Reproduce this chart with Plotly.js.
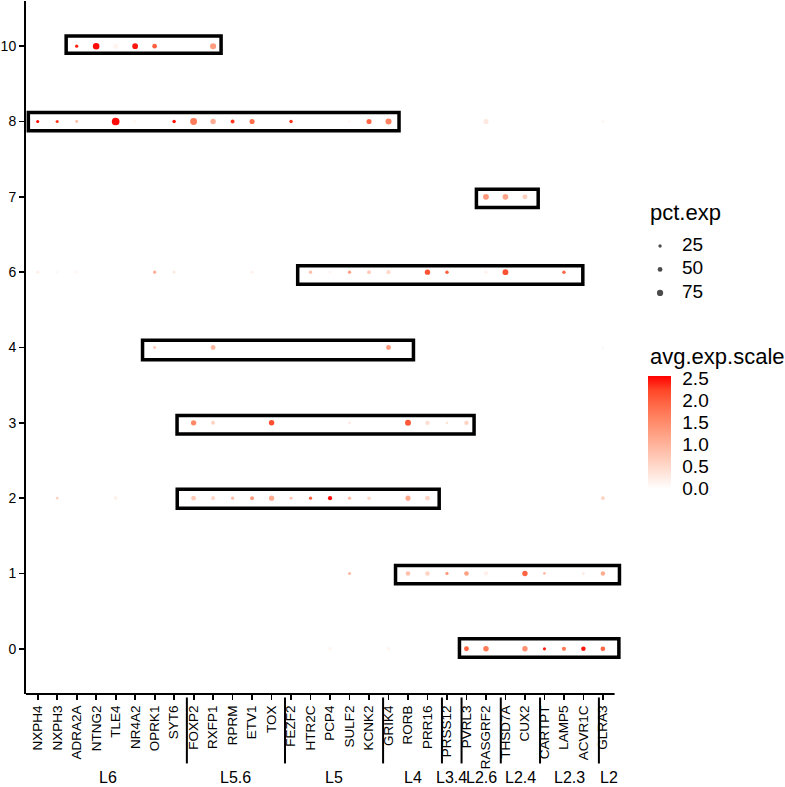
<!DOCTYPE html>
<html>
<head>
<meta charset="utf-8">
<script src="https://cdn.plot.ly/plotly-3.0.1.min.js"></script>
<style>html,body{margin:0;padding:0;background:#fff;}#chart{width:785px;height:787px;}</style>
</head>
<body>
<div id="chart"></div>
<script>
// ---------- data ----------
const genes = ['NXPH4','NXPH3','ADRA2A','NTNG2','TLE4','NR4A2','OPRK1','SYT6','FOXP2','RXFP1','RPRM','ETV1','TOX','FEZF2','HTR2C','PCP4','SULF2','KCNK2','GRIK4','RORB','PRR16','PRSS12','PVRL3','RASGRF2','THSD7A','CUX2','CARTPT','LAMP5','ACVR1C','GLRA3'];
const clusters = ['0','1','2','3','4','6','7','8','10'];
const layerGroups = ['L6','L5.6','L5','L4','L3.4','L2.6','L2.4','L2.3','L2'];
const layerSizes = [8,5,5,3,1,2,2,3,1];

const dotCluster = [
 '10','10','10','10','10','10',
 '8','8','8','8','8','8','8','8','8','8','8','8','8','8','8','8',
 '7','7','7',
 '6','6','6','6','6','6','6','6','6','6','6','6','6','6','6','6',
 '4','4','4','4',
 '3','3','3','3','3','3','3','3',
 '2','2','2','2','2','2','2','2','2','2','2','2','2','2','2',
 '1','1','1','1','1','1','1','1','1','1',
 '0','0','0','0','0','0','0','0','0'
];
const dotGene = [
 'ADRA2A','NTNG2','TLE4','NR4A2','OPRK1','RXFP1',
 'NXPH4','NXPH3','ADRA2A','TLE4','NR4A2','SYT6','FOXP2','RXFP1','RPRM','ETV1','FEZF2','SULF2','KCNK2','GRIK4','RASGRF2','GLRA3',
 'RASGRF2','THSD7A','CUX2',
 'NXPH4','NXPH3','ADRA2A','OPRK1','SYT6','ETV1','HTR2C','PCP4','SULF2','KCNK2','GRIK4','PRR16','PRSS12','RASGRF2','THSD7A','LAMP5',
 'OPRK1','RXFP1','GRIK4','GLRA3',
 'FOXP2','RXFP1','TOX','SULF2','RORB','PRR16','PRSS12','PVRL3',
 'NXPH3','TLE4','FOXP2','RXFP1','RPRM','ETV1','TOX','FEZF2','HTR2C','PCP4','SULF2','KCNK2','RORB','PRR16','GLRA3',
 'SULF2','RORB','PRR16','PRSS12','PVRL3','RASGRF2','CUX2','CARTPT','ACVR1C','GLRA3',
 'PCP4','GRIK4','PVRL3','RASGRF2','CUX2','CARTPT','LAMP5','ACVR1C','GLRA3'
];
const dotPct = [
 24,80,55,65,48,72,
 22,22,18,100,15,28,85,60,35,55,28,15,55,72,55,15,
 68,65,52,
 15,12,14,22,15,15,22,14,24,33,40,60,28,15,68,28,
 18,50,50,8,
 60,35,62,12,70,42,12,42,
 14,30,50,38,22,35,58,18,22,40,24,28,55,48,30,
 22,45,45,24,48,40,60,15,18,45,
 25,25,52,62,60,22,40,45,48
];
const dotExp = [
 2.4,2.5,0.15,2.45,2.0,1.3,
 2.5,2.3,0.9,2.5,0.15,2.45,1.7,1.1,2.3,1.85,2.3,0.12,1.9,1.6,0.3,0.15,
 1.35,1.2,0.65,
 0.25,0.1,0.15,1.1,0.3,0.2,0.9,0.15,1.3,0.7,0.5,2.1,2.0,0.2,2.1,1.9,
 0.7,0.95,1.35,0.1,
 1.55,0.6,2.15,0.3,2.05,0.45,0.4,0.6,
 0.6,0.2,0.7,0.5,0.9,1.35,1.1,0.8,2.0,2.5,0.9,0.5,1.15,0.55,0.6,
 0.9,0.85,0.6,1.3,1.25,0.2,1.95,0.9,0.25,1.1,
 0.15,0.15,1.95,1.7,1.45,2.4,1.7,2.45,1.9
];

const legendPct = [25,50,75];
const colorTicks = [0,0.5,1.0,1.5,2.0,2.5];

// highlight boxes (gene-index / cluster-index units)
const boxX0 = [2.46, 0.52, 23.51, 14.34, 6.38, 8.15, 8.16, 19.36, 22.64];
const boxX1 = [10.41, 19.54, 26.68, 28.97, 20.28, 23.39, 21.6, 30.85, 30.82];
const boxY0 = [7.905, 6.877, 5.857, 4.841, 3.837, 2.851, 1.865, 0.863, -0.111];
const boxY1 = [8.134, 7.119, 6.101, 5.086, 4.095, 3.098, 2.117, 1.107, 0.133];

// ---------- styling helpers ----------
const FONT = 'Liberation Sans, Arial, Helvetica, sans-serif';
const sizeOf = p => 1.9 + 0.058 * p;
const colorscale = [
 [0,'rgb(255,255,255)'],[0.125,'rgb(255,231,222)'],[0.25,'rgb(255,207,190)'],
 [0.375,'rgb(255,183,160)'],[0.5,'rgb(255,158,129)'],[0.625,'rgb(255,132,99)'],
 [0.75,'rgb(255,104,70)'],[0.875,'rgb(255,70,40)'],[1,'rgb(255,0,0)']
];

const W = 785, H = 787;
const mL = 25.6, mR = 0, mT = 0.8, mB = 92.5;
const plotW = 596.7;                 // x-axis length in px
const paperW = W - mL - mR, paperH = H - mT - mB;
const px2x = p => (p - mL) / paperW;
const px2y = p => (H - mB - p) / paperH;

const xIdx = dotGene.map(g => genes.indexOf(g) + 1);
const yIdx = dotCluster.map(c => clusters.indexOf(c));

const traces = [
 {
  type:'scatter', mode:'markers', x:xIdx, y:yIdx, showlegend:false, hoverinfo:'skip',
  cliponaxis:false,
  marker:{
   size: dotPct.map(sizeOf), color: dotExp, colorscale: colorscale, cmin:0, cmax:2.55,
   line:{width:0}, opacity:1, showscale:true,
   colorbar:{
    x:px2x(648), xanchor:'left', y:px2y(432.5), yanchor:'middle',
    len:113, lenmode:'pixels', thickness:23, thicknessmode:'pixels',
    outlinewidth:0, xpad:0, ypad:0,
    tickvals:colorTicks, ticktext:colorTicks.map(v => v.toFixed(1)),
    ticks:'outside', ticklen:8, tickcolor:'rgba(255,255,255,0)', tickwidth:1,
    tickfont:{family:FONT, size:19, color:'#000'}
   }
  }
 },
 { type:'scatter', mode:'markers', x:[1], y:[null], xaxis:'x2', yaxis:'y', showlegend:false, hoverinfo:'skip' },
 {
  type:'scatter', mode:'markers', x:legendPct.map(() => 0.2), y:legendPct, xaxis:'x3', yaxis:'y3',
  showlegend:false, hoverinfo:'skip', cliponaxis:false,
  marker:{size:legendPct.map(sizeOf), color:'#000', line:{width:0}}
 },
 {
  type:'scatter', mode:'text', x:legendPct.map(() => 0.64), y:legendPct, xaxis:'x3', yaxis:'y3',
  text:legendPct.map(String), textposition:'middle right', showlegend:false, hoverinfo:'skip', cliponaxis:false,
  textfont:{family:FONT, size:19, color:'#000'}
 }
];

const shapes = [];
for (let i = 0; i < boxX0.length; i++) {
 shapes.push({type:'rect', xref:'x', yref:'y', x0:boxX0[i], x1:boxX1[i], y0:boxY0[i], y1:boxY1[i],
  line:{color:'#000', width:3.5}, fillcolor:'rgba(0,0,0,0)', layer:'above'});
}
shapes.push({type:'line', xref:'x', yref:'paper', x0:0.4, x1:genes.length + 0.6, y0:0, y1:0, line:{color:'#000', width:2}});

const annotations = [];
let cum = 0;
layerSizes.forEach((n, i) => {
 const center = cum + (n + 1) / 2;
 annotations.push({xref:'x2', yref:'paper', x:center, y:px2y(778.5), text:layerGroups[i], showarrow:false,
  xanchor:'center', yanchor:'middle', font:{family:FONT, size:16, color:'#000'}});
 cum += n;
 if (i < layerSizes.length - 1) {
  shapes.push({type:'line', xref:'x2', yref:'paper', x0:cum + 0.5, x1:cum + 0.5, y0:px2y(698), y1:px2y(764),
   line:{color:'#000', width:2}});
 }
});
annotations.push({xref:'paper', yref:'paper', x:px2x(648), y:px2y(213), xanchor:'left', yanchor:'middle',
 text:'pct.exp', showarrow:false, font:{family:FONT, size:22, color:'#000'}});
annotations.push({xref:'paper', yref:'paper', x:px2x(648), y:px2y(357), xanchor:'left', yanchor:'middle',
 text:'avg.exp.scale', showarrow:false, font:{family:FONT, size:22, color:'#000'}});

const layout = {
 width:W, height:H, margin:{l:mL, r:mR, t:mT, b:mB, pad:0},
 paper_bgcolor:'#fff', plot_bgcolor:'#fff', showlegend:false,
 font:{family:FONT, color:'#000'},
 xaxis:{
  domain:[0, plotW / paperW], range:[0.4, 31.0],
  tickmode:'array', tickvals:genes.map((g, i) => i + 1), ticktext:genes, tickangle:-90,
  ticks:'outside', ticklen:5, tickwidth:1.8, tickcolor:'#000',
  showline:false, showgrid:false, zeroline:false,
  tickfont:{family:FONT, size:13.5, color:'#000'}, fixedrange:true
 },
 yaxis:{
  domain:[0,1], range:[-0.6, 8.6],
  tickmode:'array', tickvals:clusters.map((c, i) => i), ticktext:clusters,
  ticks:'outside', ticklen:5, tickwidth:1.8, tickcolor:'#000',
  showline:true, linewidth:2, linecolor:'#000', showgrid:false, zeroline:false,
  tickfont:{family:FONT, size:14, color:'#000'}, fixedrange:true
 },
 xaxis2:{overlaying:'x', anchor:'y', range:[0.3006, 30.697], visible:false, showgrid:false, zeroline:false},
 xaxis3:{domain:[px2x(650), px2x(700)], anchor:'y3', range:[0,1], visible:false, showgrid:false, zeroline:false},
 yaxis3:{domain:[px2y(310), px2y(230)], anchor:'x3', range:[93.1, 7.98], visible:false, showgrid:false, zeroline:false},
 shapes:shapes, annotations:annotations
};

Plotly.newPlot('chart', traces, layout, {staticPlot:true, displayModeBar:false});
</script>
</body>
</html>
